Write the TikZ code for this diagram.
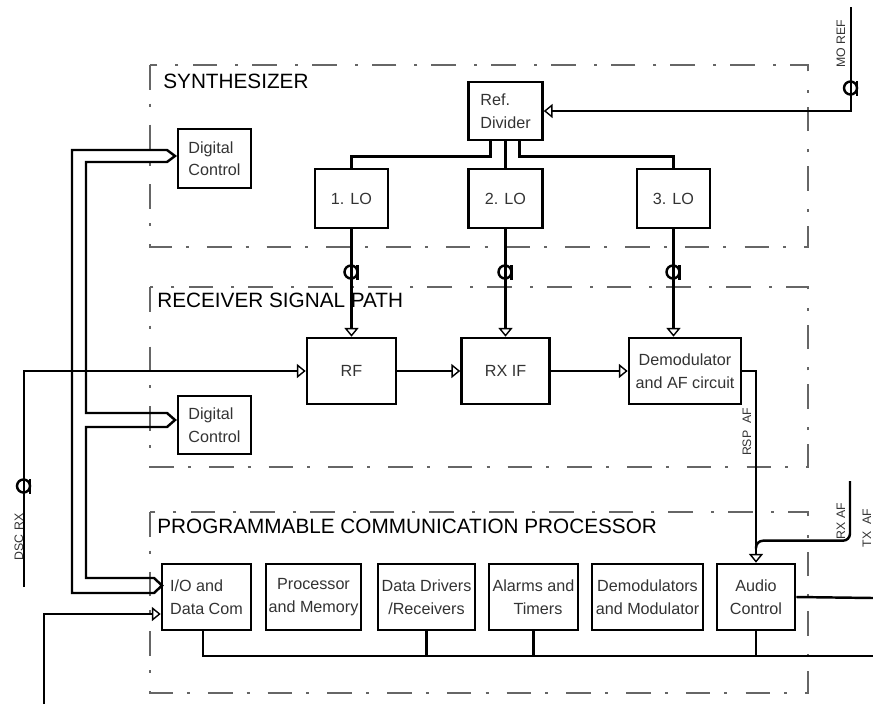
\documentclass[tikz,border=0pt]{standalone}
\usepackage{fontspec}
\setmainfont{Liberation Sans}
\usetikzlibrary{arrows.meta,calc}

% plug mark on a signal line
\newcommand{\plugsym}[1]{%
  \draw[line width=1.4pt] ($(#1)+(-0.5,0)$) circle (6.5);
  \draw[line width=1.4pt] ($(#1)+(6,-7)$) -- ($(#1)+(6,8)$);
}

\begin{document}
\begin{tikzpicture}[
  x=0.02cm, y=-0.02cm,
  box/.style={draw, line width=1.5pt, inner sep=0pt, text=black!80, align=center,
    font=\fontsize{9.2}{12.8}\selectfont},
  frame/.style={draw=black!60, line width=0.7pt, dash pattern=on 14pt off 8pt on 1.7pt off 10.3pt},
  title/.style={anchor=base west, inner sep=0pt, font=\fontsize{11.8}{14}\selectfont},
  sig/.style={rotate=90, inner sep=0pt, text=black!80, font=\fontsize{7}{8}\selectfont},
  wire/.style={line width=1.4pt},
  arr/.style={wire, -{Triangle[open, fill=white, length=5pt, width=8pt, line width=0.8pt]}},
  bus/.style={line width=1.4pt, line join=miter}
]
\useasboundingbox (0,0) rectangle (873,704);

% dash-dot frames
\draw[frame] (150,65) rectangle (808,247);
\draw[frame] (150,287) rectangle (808,467);
\draw[frame] (150,512) rectangle (808,693);
\node[title] (synt) at (163,88) {SYNTHESIZER};
\node[title] (rsp) at (157,307) {RECEIVER SIGNAL PATH};
\node[title] (pcp) at (157,533) {PROGRAMMABLE COMMUNICATION PROCESSOR};

% synthesizer
\node[box, align=left, minimum width=1.46cm, minimum height=1.18cm] (dctop) at (214.5,158.5) {Digital\\Control};
\node[box, align=left, minimum width=1.48cm, minimum height=1.16cm] (refdiv) at (505.5,111) {Ref.\\Divider};
\node[box, minimum width=1.46cm, minimum height=1.18cm] (lo1) at (351.5,198.5) {1. LO};
\node[box, minimum width=1.48cm, minimum height=1.18cm] (lo2) at (505.5,198.5) {2. LO};
\node[box, minimum width=1.46cm, minimum height=1.18cm] (lo3) at (673.5,198.5) {3. LO};

% receiver signal path
\node[box, minimum width=1.78cm, minimum height=1.32cm] (rf) at (351.5,371) {RF};
\node[box, minimum width=1.76cm, minimum height=1.32cm] (rxif) at (505.5,371) {RX IF};
\node[box, minimum width=2.24cm, minimum height=1.32cm] (demod) at (685,371) {Demodulator\\and AF circuit};
\node[box, align=left, minimum width=1.46cm, minimum height=1.16cm] (dcbot) at (214.5,425) {Digital\\Control};

% communication processor
\node[box, align=left, minimum width=1.78cm, minimum height=1.32cm] (io) at (206.5,597) {I/O and\\Data Com};
\node[box, minimum width=1.9cm, minimum height=1.32cm] (proc) at (313.5,597) {Processor\\and Memory};
\node[box, minimum width=1.94cm, minimum height=1.32cm] (drv) at (426.5,597) {Data Drivers\\/Receivers};
\node[box, minimum width=1.78cm, minimum height=1.32cm] (alarm) at (533.5,597) {Alarms and\\\ \ Timers};
\node[box, minimum width=2.22cm, minimum height=1.32cm] (demmod) at (647.5,597) {Demodulators\\and Modulator};
\node[box, minimum width=1.56cm, minimum height=1.32cm] (audio) at (756,597) {Audio\\Control};

% outside signals
\coordinate (moref) at (851,7);
\coordinate (dscrx) at (24,587);
\coordinate (rxaf) at (850,481);
\coordinate (ioin) at (44,704);
\coordinate (busend) at (873,656);
\coordinate (audout) at (873,598);
\node[sig] (morefl) at (841,44) {MO REF};
\node[sig] (dscl) at (19,537) {DSC RX};
\node[sig] (rspl) at (747,432) {RSP\ \ AF};
\node[sig] (rxafl) at (841,521) {RX AF};
\node[sig] (txafl) at (867,528) {TX\ \ AF};

% reference distribution
\draw[arr] (moref) |- (refdiv.east);
\plugsym{851,88}
\draw[wire] ($(refdiv.south)+(-15,0)$) -- ++(0,15) -| (lo1.north);
\draw[wire] (refdiv.south) -- (lo2.north);
\draw[wire] ($(refdiv.south)+(14,0)$) -- ++(0,15) -| (lo3.north);

% LO feeds
\draw[arr] (lo1.south) -- (rf.north);
\draw[arr] (lo2.south) -- (rxif.north);
\draw[arr] (lo3.south) -- (lo3.south |- demod.north);
\plugsym{351.5,272}
\plugsym{505.5,272}
\plugsym{673.5,272}

% receive chain
\draw[arr] (dscrx) |- (rf.west);
\plugsym{24,486}
\draw[arr] (rf) -- (rxif);
\draw[arr] (rxif) -- (demod);
\draw[arr] (demod.east) -| (audio.north);
\draw[wire, rounded corners=4pt] (rxaf) |- ($(audio.north)+(0,-22)$) -- ($(audio.north)+(0,-14)$);

% control bus
\draw[bus] (72,593) -- (72,150) -- (167,150) -- (175,156) -- (167,162) -- (86,162)
  -- (86,413) -- (167,413) -- (175,420) -- (167,427) -- (86,427)
  -- (86,578) -- (154,578) -- (162,585.5) -- (154,593) -- cycle;
\draw[arr] (ioin) |- ($(io.west)+(0,17)$);

% data bus
\draw[wire] ($(io.south)+(-3.5,0)$) |- (busend);
\draw[wire] (drv.south) -- (drv.south |- busend);
\draw[wire] (alarm.south) -- (alarm.south |- busend);
\draw[wire] (audio.south) -- (audio.south |- busend);
\draw[wire] (audio.east) -- (audout);
\end{tikzpicture}
\end{document}
